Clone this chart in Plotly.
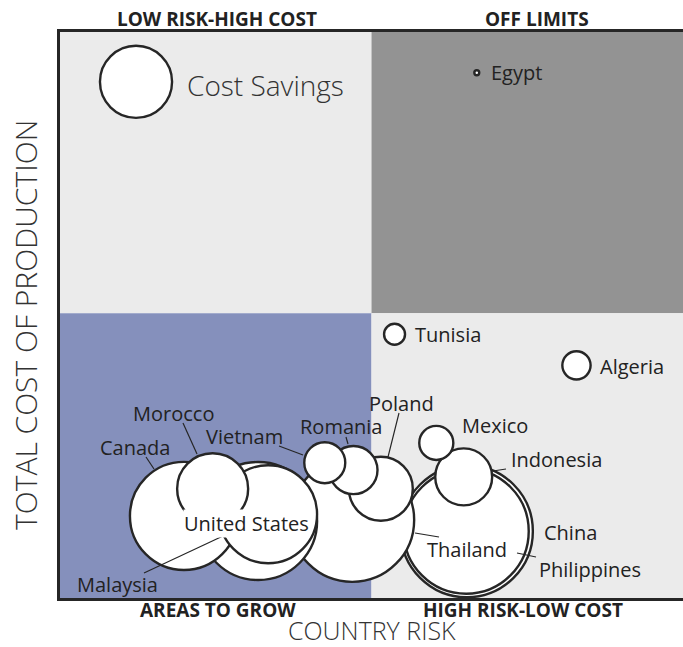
import plotly.graph_objects as go

# ---------------- data ----------------
countries = ["China", "Philippines", "Thailand", "Malaysia", "Canada", "United States",
             "Morocco", "Poland", "Romania", "Vietnam", "Indonesia", "Mexico",
             "Tunisia", "Algeria", "Egypt"]
country_risk = [6.53, 6.52, 4.69, 3.18, 1.99, 3.34, 2.45, 5.15, 4.71, 4.25, 6.48, 6.04, 5.37, 8.29, 6.69]
production_cost = [1.18, 1.18, 1.38, 1.36, 1.45, 1.48, 1.93, 1.93, 2.26, 2.39, 2.14, 2.74, 4.66, 4.11, 9.28]
cost_savings = [43.6, 39.1, 38.4, 34.8, 29.2, 24.0, 12.6, 10.2, 5.8, 4.2, 8.1, 2.9, 1.1, 2.0, 0.06]

legend_label = "Cost Savings"
legend_savings = 13.0
legend_risk = 1.22
legend_cost = 9.12

quadrant_labels = ["LOW RISK-HIGH COST", "OFF LIMITS", "AREAS TO GROW", "HIGH RISK-LOW COST"]
x_title = "COUNTRY RISK"
y_title = "TOTAL COST OF PRODUCTION"

# ---------------- layout helpers ----------------
W, H = 683, 647
L, R, T, B = 60, 0, 32, 49
PW, PH = W - L - R, H - T - B
XMAX, YMAX = 10.0, 10.0
X_MID, Y_MID = 5.0, 5.03


def dx(px):
    return (px - L) / PW * XMAX


def dy(py):
    return (H - B - py) / PH * YMAX


def px_(px):
    return (px - L) / PW


def py_(py):
    return (H - B - py) / PH


FONT = "Open Sans"
TXT = "#222222"
EDGE = "#262626"
SIZEREF = 0.005

fig = go.Figure()

fig.add_trace(go.Scatter(
    x=country_risk, y=production_cost, mode="markers",
    text=countries, hoverinfo="text",
    marker=dict(size=cost_savings, sizemode="area", sizeref=SIZEREF, sizemin=1,
                color="white", opacity=1, line=dict(color=EDGE, width=2.4)),
    showlegend=False, cliponaxis=False,
))

fig.add_trace(go.Scatter(
    x=[legend_risk], y=[legend_cost], mode="markers",
    marker=dict(size=[legend_savings], sizemode="area", sizeref=SIZEREF, opacity=1,
                color="white", line=dict(color=EDGE, width=2.4)),
    showlegend=False, hoverinfo="skip",
))

# quadrants
quad_colors = ["#ebebeb", "#939393", "#8590bc", "#ebebeb"]
quad_boxes = [(0, X_MID, Y_MID, YMAX), (X_MID, XMAX, Y_MID, YMAX),
              (0, X_MID, 0, Y_MID), (X_MID, XMAX, 0, Y_MID)]
shapes = []
for c, (x0, x1, y0, y1) in zip(quad_colors, quad_boxes):
    shapes.append(dict(type="rect", xref="x", yref="y", x0=x0, x1=x1, y0=y0, y1=y1,
                       fillcolor=c, line=dict(width=0), layer="below"))

# leader lines (pixel estimates)
leaders = [((146, 457), (154, 469)), ((183, 423), (197, 454)), ((279, 446), (303, 455)),
           ((346, 437), (348, 444)), ((399, 413), (388, 457)), ((506, 469), (493, 471)),
           ((415, 533), (439, 537)), ((517, 553), (536, 557)), ((144, 573), (223, 536))]
for (a, b) in leaders:
    shapes.append(dict(type="line", xref="x", yref="y", x0=dx(a[0]), y0=dy(a[1]),
                       x1=dx(b[0]), y1=dy(b[1]), line=dict(color=EDGE, width=1.2),
                       layer="above"))

annotations = []
# country labels: (text, left px, center py)
label_pos = {
    "Egypt": (489, 73), "Tunisia": (413, 334), "Algeria": (598, 366),
    "Mexico": (460, 425), "Indonesia": (509, 459), "China": (542, 532),
    "Philippines": (537, 569), "Thailand": (425, 549), "Malaysia": (75, 584),
    "Canada": (98, 447), "Morocco": (131, 413), "Vietnam": (204, 436),
    "Romania": (298, 426), "Poland": (367, 403),
}
LBL = 20
for name, (lx, ly) in label_pos.items():
    annotations.append(dict(text=name, x=px_(lx), y=py_(ly), xref="paper", yref="paper",
                            xanchor="left", yanchor="middle", showarrow=False,
                            font=dict(family=FONT, size=LBL, color=TXT)))
annotations.append(dict(text="United States", x=px_(183), y=py_(523), xref="paper", yref="paper",
                        xanchor="left", yanchor="middle", showarrow=False, bgcolor="white",
                        borderpad=0,
                        font=dict(family=FONT, size=LBL, color=TXT)))
annotations.append(dict(text=legend_label, x=px_(185), y=py_(85), xref="paper", yref="paper",
                        xanchor="left", yanchor="middle", showarrow=False,
                        font=dict(family=FONT, size=28, color="#333333", weight=300)))

quad_pos = [(217, 19), (537, 19), (218, 610), (523, 610)]
for t, (qx, qy) in zip(quadrant_labels, quad_pos):
    annotations.append(dict(text="<b>%s</b>" % t, x=px_(qx), y=py_(qy), xref="paper", yref="paper",
                            xanchor="center", yanchor="middle", showarrow=False,
                            font=dict(family=FONT, size=19, color=TXT)))

annotations.append(dict(text=x_title, x=px_(372), y=py_(649), xref="paper", yref="paper",
                        xanchor="center", yanchor="bottom", showarrow=False,
                        font=dict(family=FONT, size=25, color="#333333", weight=300)))
annotations.append(dict(text=y_title, x=px_(25), y=py_(325), xref="paper", yref="paper",
                        xanchor="center", yanchor="middle", showarrow=False, textangle=-90,
                        font=dict(family=FONT, size=30, color="#333333", weight=300)))

fig.update_layout(
    width=W, height=H, margin=dict(l=L, r=R, t=T, b=B, pad=0),
    plot_bgcolor="white", paper_bgcolor="white",
    shapes=shapes, annotations=annotations,
    xaxis=dict(range=[0, XMAX], showgrid=False, zeroline=False, showticklabels=False,
               ticks="", showline=True, mirror=True, linecolor=EDGE, linewidth=2.5,
               layer="above traces", fixedrange=True),
    yaxis=dict(range=[0, YMAX], showgrid=False, zeroline=False, showticklabels=False,
               ticks="", showline=True, mirror=False, linecolor=EDGE, linewidth=2.5,
               layer="above traces", fixedrange=True),
    showlegend=False,
)

fig.write_html("out.html")
